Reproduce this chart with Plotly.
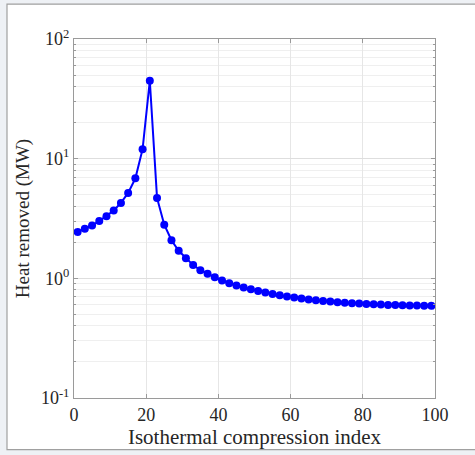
import plotly.graph_objects as go

x_index = list(range(1, 100, 2))
heat_mw = [2.44, 2.60, 2.77, 3.01, 3.31, 3.69, 4.27, 5.17, 6.85, 12.0,
           44.8, 4.70, 2.81, 2.08, 1.70, 1.47, 1.29, 1.17, 1.09, 1.02,
           0.957, 0.909, 0.870, 0.837, 0.811, 0.785, 0.761, 0.741, 0.722, 0.705,
           0.691, 0.679, 0.666, 0.656, 0.647, 0.639, 0.632, 0.626, 0.620, 0.615,
           0.611, 0.607, 0.603, 0.600, 0.598, 0.596, 0.594, 0.592, 0.590, 0.589]
y_tickvals = [0.1, 1, 10, 100]
y_ticktext = ["10<sup>-1</sup>", "10<sup>0</sup>", "10<sup>1</sup>", "10<sup>2</sup>"]
x_tickvals = [0, 20, 40, 60, 80, 100]

L, R, T, B = 74, 435, 39, 400
W, H = 475, 455
pw, ph = R - L, B - T

def px(v):
    return (v - L) / pw

def py(v):
    return (B - v) / ph

fig = go.Figure()
fig.add_trace(go.Scatter(
    x=x_index, y=heat_mw, mode="lines+markers",
    line=dict(color="#0000ff", width=2),
    marker=dict(color="#0000ff", size=8),
    showlegend=False,
))

font = "Liberation Serif, Times New Roman, serif"
fig.update_layout(
    width=W, height=H,
    margin=dict(l=L, r=W - R, t=T, b=H - B),
    paper_bgcolor="#eef1f5",
    plot_bgcolor="white",
    font=dict(family=font, size=17, color="#262626"),
    shapes=[dict(type="rect", xref="paper", yref="paper",
                 x0=px(7), x1=px(480), y0=py(452), y1=py(4),
                 fillcolor="white", line=dict(color="#a0a0a0", width=1.2),
                 layer="below")],
)
fig.update_xaxes(
    range=[0, 100], tickvals=x_tickvals,
    showgrid=True, gridcolor="#e6e6e6", gridwidth=1,
    showline=True, linecolor="#9a9a9a", linewidth=1, mirror="ticks",
    ticks="inside", ticklen=4, tickcolor="#9a9a9a",
    zeroline=False,
    tickfont=dict(family=font, size=18, color="#262626"),
    title=dict(text="Isothermal compression index", standoff=4,
               font=dict(family=font, size=21, color="#262626")),
)
fig.update_yaxes(
    type="log", range=[-1, 2], tickvals=y_tickvals, ticktext=y_ticktext,
    showgrid=True, gridcolor="#dedede", gridwidth=1,
    minor=dict(showgrid=True, gridcolor="#efefef", gridwidth=1,
               ticks="inside", ticklen=2, tickcolor="#9a9a9a", dtick="D1"),
    showline=True, linecolor="#9a9a9a", linewidth=1, mirror="ticks",
    ticks="inside", ticklen=4, tickcolor="#9a9a9a",
    zeroline=False,
    tickfont=dict(family=font, size=18, color="#262626"),
    title=dict(text="Heat removed (MW)", standoff=6,
               font=dict(family=font, size=19, color="#262626")),
)

fig.write_html("out.html")
